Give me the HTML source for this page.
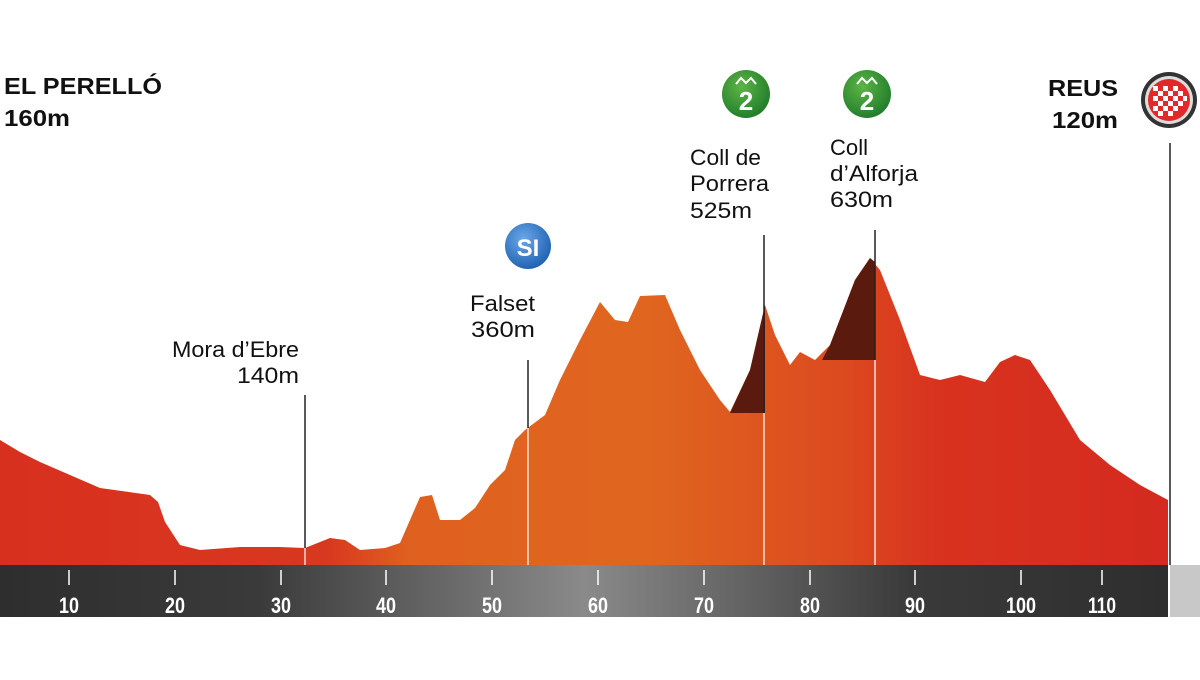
<!DOCTYPE html>
<html><head><meta charset="utf-8"><style>
html,body{margin:0;padding:0;background:#fff;}
body{width:1200px;height:675px;overflow:hidden;font-family:"Liberation Sans",sans-serif;}
</style></head><body>
<svg width="1200" height="675" viewBox="0 0 1200 675" xmlns="http://www.w3.org/2000/svg">
<defs>
<linearGradient id="prof" x1="0" x2="1" y1="0" y2="0">
<stop offset="0" stop-color="#d8301f"/>
<stop offset="0.28" stop-color="#d8381f"/>
<stop offset="0.35" stop-color="#e0601f"/>
<stop offset="0.55" stop-color="#e0661f"/>
<stop offset="0.72" stop-color="#dc4a1f"/>
<stop offset="0.8" stop-color="#d8331f"/>
<stop offset="1" stop-color="#d42a1f"/>
</linearGradient>
<linearGradient id="axis" x1="0" x2="1" y1="0" y2="0">
<stop offset="0" stop-color="#2e2e2e"/>
<stop offset="0.22" stop-color="#3a3a3a"/>
<stop offset="0.5" stop-color="#8a8a8a"/>
<stop offset="0.78" stop-color="#3a3a3a"/>
<stop offset="1" stop-color="#2e2e2e"/>
</linearGradient>
<radialGradient id="g" cx="0.4" cy="0.35" r="0.7"><stop offset="0" stop-color="#5cb545"/><stop offset="1" stop-color="#1f7a2a"/></radialGradient>
<radialGradient id="b" cx="0.4" cy="0.35" r="0.7"><stop offset="0" stop-color="#6aa8e8"/><stop offset="1" stop-color="#1d5fb0"/></radialGradient>
</defs>
<polygon fill="url(#prof)" points="0,440 20,452 40,462 70,475 100,488 150,495 158,502 165,522 180,545 200,550 240,547 280,547 305,548 330,538 345,540 360,550 385,548 400,543 410,520 420,497 432,495 440,520 460,520 475,508 490,485 505,470 515,440 525,430 545,415 560,380 580,340 600,302 615,320 628,322 640,296 665,295 680,330 700,370 720,400 730,412 750,370 765,305 775,335 790,365 800,352 815,360 830,345 855,280 870,258 880,270 900,320 920,375 940,380 960,375 985,382 1000,362 1015,355 1030,360 1050,390 1080,440 1110,465 1140,485 1168,500 1168,565 0,565"/>
<polygon fill="#5a1a0e" points="730,413 750,370 765,305 765,413"/>
<polygon fill="#5a1a0e" points="822,360 830,345 855,280 870,258 875,262 875,360"/>
<g stroke="#fff" stroke-width="1.2"><line x1="305" y1="548" x2="305" y2="565"/><line x1="528" y1="428" x2="528" y2="565"/><line x1="764" y1="413" x2="764" y2="565"/><line x1="875" y1="360" x2="875" y2="565"/></g>
<g stroke="#222" stroke-width="1.5"><line x1="305" y1="395" x2="305" y2="548"/><line x1="528" y1="360" x2="528" y2="428"/><line x1="764" y1="235" x2="764" y2="413"/><line x1="875" y1="230" x2="875" y2="360"/><line x1="1170" y1="143" x2="1170" y2="565"/></g>
<rect x="0" y="565" width="1168" height="52" fill="url(#axis)"/>
<rect x="1170" y="565" width="30" height="52" fill="#c8c8c8"/>
<g stroke="#fff" stroke-width="1.5">
<line x1="69" y1="570" x2="69" y2="585"/><line x1="175" y1="570" x2="175" y2="585"/><line x1="281" y1="570" x2="281" y2="585"/><line x1="386" y1="570" x2="386" y2="585"/><line x1="492" y1="570" x2="492" y2="585"/><line x1="598" y1="570" x2="598" y2="585"/><line x1="704" y1="570" x2="704" y2="585"/><line x1="810" y1="570" x2="810" y2="585"/><line x1="915" y1="570" x2="915" y2="585"/><line x1="1021" y1="570" x2="1021" y2="585"/><line x1="1102" y1="570" x2="1102" y2="585"/></g>
<g fill="#fff" font-size="22" font-weight="bold" font-family="Liberation Sans, sans-serif" lengthAdjust="spacingAndGlyphs">
<text x="59" y="613" textLength="20" lengthAdjust="spacingAndGlyphs">10</text><text x="165" y="613" textLength="20" lengthAdjust="spacingAndGlyphs">20</text><text x="271" y="613" textLength="20" lengthAdjust="spacingAndGlyphs">30</text><text x="376" y="613" textLength="20" lengthAdjust="spacingAndGlyphs">40</text><text x="482" y="613" textLength="20" lengthAdjust="spacingAndGlyphs">50</text><text x="588" y="613" textLength="20" lengthAdjust="spacingAndGlyphs">60</text><text x="694" y="613" textLength="20" lengthAdjust="spacingAndGlyphs">70</text><text x="800" y="613" textLength="20" lengthAdjust="spacingAndGlyphs">80</text><text x="905" y="613" textLength="20" lengthAdjust="spacingAndGlyphs">90</text><text x="1006" y="613" textLength="30" lengthAdjust="spacingAndGlyphs">100</text><text x="1088" y="613" textLength="28" lengthAdjust="spacingAndGlyphs">110</text></g>
<g fill="#111" font-weight="bold" font-size="23">
<text x="4" y="94" textLength="158" lengthAdjust="spacingAndGlyphs">EL PERELLÓ</text><text x="4" y="126" textLength="66" lengthAdjust="spacingAndGlyphs">160m</text>
<text x="1048" y="96" textLength="70" lengthAdjust="spacingAndGlyphs">REUS</text><text x="1052" y="128" textLength="66" lengthAdjust="spacingAndGlyphs">120m</text></g>
<g fill="#111" font-size="22" font-family="Liberation Sans, sans-serif">
<text x="172" y="357" textLength="127" lengthAdjust="spacingAndGlyphs">Mora d’Ebre</text><text x="237" y="383" textLength="62" lengthAdjust="spacingAndGlyphs">140m</text>
<text x="470" y="311" textLength="65" lengthAdjust="spacingAndGlyphs">Falset</text><text x="471" y="337" textLength="64" lengthAdjust="spacingAndGlyphs">360m</text>
<text x="690" y="165" textLength="71" lengthAdjust="spacingAndGlyphs">Coll de</text><text x="690" y="191" textLength="79" lengthAdjust="spacingAndGlyphs">Porrera</text><text x="690" y="218" textLength="62" lengthAdjust="spacingAndGlyphs">525m</text>
<text x="830" y="155" textLength="38" lengthAdjust="spacingAndGlyphs">Coll</text><text x="830" y="181" textLength="88" lengthAdjust="spacingAndGlyphs">d’Alforja</text><text x="830" y="207" textLength="63" lengthAdjust="spacingAndGlyphs">630m</text></g>
<circle cx="746" cy="94" r="24" fill="url(#g)"/><circle cx="867" cy="94" r="24" fill="url(#g)"/>
<g fill="#fff" font-weight="bold" font-size="26" text-anchor="middle"><text x="746" y="110">2</text><text x="867" y="110">2</text></g>
<path d="M736,84 l5,-6 5,5 5,-5 5,6 M857,84 l5,-6 5,5 5,-5 5,6" stroke="#fff" stroke-width="2" fill="none"/>
<circle cx="528" cy="246" r="23" fill="url(#b)"/>
<text x="528" y="256" fill="#fff" font-weight="bold" font-size="24" text-anchor="middle">SI</text>
<circle cx="1169" cy="100" r="28" fill="#333"/><circle cx="1169" cy="100" r="24" fill="#ddd"/><circle cx="1169" cy="100" r="21" fill="#e02a2a"/>
<g fill="#fff">
<rect x="1153" y="86" width="5" height="5"/><rect x="1163" y="86" width="5" height="5"/><rect x="1173" y="86" width="5" height="5"/>
<rect x="1158" y="91" width="5" height="5"/><rect x="1168" y="91" width="5" height="5"/><rect x="1178" y="91" width="5" height="5"/>
<rect x="1153" y="96" width="5" height="5"/><rect x="1163" y="96" width="5" height="5"/><rect x="1173" y="96" width="5" height="5"/><rect x="1183" y="96" width="4" height="5"/>
<rect x="1158" y="101" width="5" height="5"/><rect x="1168" y="101" width="5" height="5"/><rect x="1178" y="101" width="5" height="5"/>
<rect x="1153" y="106" width="5" height="5"/><rect x="1163" y="106" width="5" height="5"/><rect x="1173" y="106" width="5" height="5"/>
<rect x="1158" y="111" width="5" height="5"/><rect x="1168" y="111" width="5" height="5"/></g>
</svg>
</body></html>
